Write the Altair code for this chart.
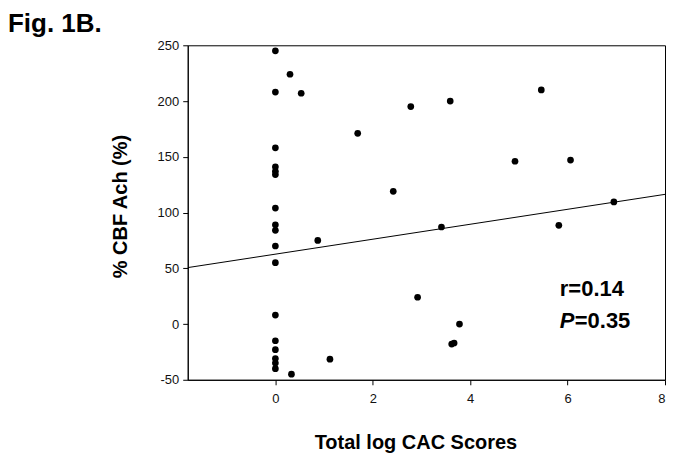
import altair as alt
import pandas as pd

# Scatter points (Total log CAC score, % CBF Ach)
x_vals = [0, 0, 0, 0, 0, 0, 0, 0, 0, 0, 0, 0, 0, 0, 0, 0, 0,
          0.30, 0.53, 0.87, 0.33, 1.12, 1.69, 2.78, 3.59, 5.46, 4.92, 6.06,
          2.42, 3.41, 5.82, 6.95, 2.92, 3.78, 3.62, 3.67]
y_vals = [245, 208, 158, 141, 137, 134, 104, 89, 84, 70, 55, 8, -15, -23, -31, -35, -40,
          224, 207, 75, -45, -31.5, 171, 195, 200, 210, 146, 147,
          119, 87, 88.5, 109.5, 24, 0, -18, -17]

# Regression line end points
line_x = [-1.8, 8]
line_y = [50.6, 116.3]

# Annotation
ann_x = [5.84]
ann_r_y = [25.2]
ann_p_y = [-3.4]

x_ticks = [0, 2, 4, 6, 8]
y_ticks = [-50, 0, 50, 100, 150, 200, 250]

pts = pd.DataFrame({"x": x_vals, "y": y_vals})
ln = pd.DataFrame({"x": line_x, "y": line_y})
ann_r = pd.DataFrame({"x": ann_x, "y": ann_r_y, "t": ["r=0.14"]})
ann_p = pd.DataFrame({"x": ann_x, "y": ann_p_y, "t": ["P"]})
ann_v = pd.DataFrame({"x": ann_x, "y": ann_p_y, "t": ["=0.35"]})

FONT = "Liberation Sans"

xscale = alt.Scale(domain=[-1.8, 8], nice=False, zero=False)
yscale = alt.Scale(domain=[-50, 250], nice=False, zero=False)

xaxis = alt.Axis(values=x_ticks, title="Total log CAC Scores", grid=False, labelPadding=8,
                 labelExpr="datum.value + ''",
                 titleX=228, titleY=69, titleBaseline="alphabetic", titleAlign="center")
yaxis = alt.Axis(values=y_ticks, title="% CBF Ach (%)", grid=False, labelPadding=4,
                 labelExpr="datum.value + ''",
                 titleX=-61, titleY=161, titleBaseline="alphabetic", titleAlign="center")

points = alt.Chart(pts).mark_circle(size=45, color="black", opacity=1).encode(
    x=alt.X("x:Q", scale=xscale, axis=xaxis),
    y=alt.Y("y:Q", scale=yscale, axis=yaxis),
)

line = alt.Chart(ln).mark_line(color="black", strokeWidth=1, clip=True).encode(
    x=alt.X("x:Q", scale=xscale),
    y=alt.Y("y:Q", scale=yscale),
)

txt_r = alt.Chart(ann_r).mark_text(align="left", baseline="alphabetic", fontSize=22,
                                   fontWeight="bold", font=FONT, color="black").encode(
    x=alt.X("x:Q", scale=xscale), y=alt.Y("y:Q", scale=yscale), text="t:N")
txt_p = alt.Chart(ann_p).mark_text(align="left", baseline="alphabetic", fontSize=22,
                                   fontWeight="bold", fontStyle="italic", font=FONT,
                                   color="black").encode(
    x=alt.X("x:Q", scale=xscale), y=alt.Y("y:Q", scale=yscale), text="t:N")
txt_v = alt.Chart(ann_v).mark_text(align="left", baseline="alphabetic", fontSize=22,
                                   fontWeight="bold", font=FONT, color="black", dx=15).encode(
    x=alt.X("x:Q", scale=xscale), y=alt.Y("y:Q", scale=yscale), text="t:N")

chart = alt.layer(line, points, txt_r, txt_p, txt_v).properties(
    width=478, height=335,
    autosize=alt.AutoSizeParams(type="none"),
    padding={"left": 180, "top": 37, "right": 2, "bottom": 75},
    title=alt.TitleParams("Fig. 1B.", anchor="start", frame="group", dx=-180, dy=-2,
                          fontSize=26, font=FONT, fontWeight="bold", color="black",
                          baseline="top", offset=0),
).configure_view(
    stroke="black", strokeWidth=1
).configure_axis(
    labelFont=FONT, labelFontSize=13, labelColor="#111",
    titleFont=FONT, titleFontSize=20, titleFontWeight="bold", titleColor="black",
    domainColor="black", tickColor="black", tickSize=5,
)

chart.save("out.html", embed_options={"renderer": "svg", "actions": False})
